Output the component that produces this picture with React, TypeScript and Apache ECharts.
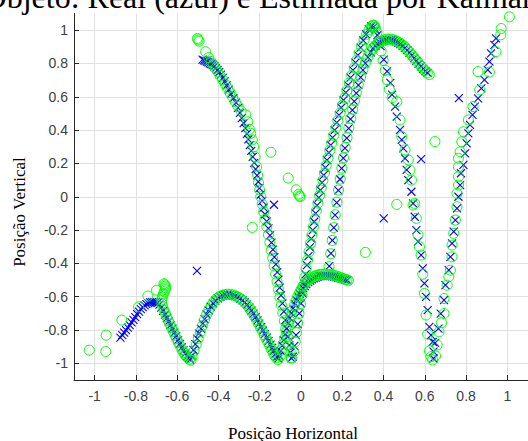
import React, { useEffect, useRef } from "react";
import * as echarts from "echarts";

const titleText = "Posição do Objeto: Real (azul) e Estimada por Kalman";
const xLabelText = "Posição Horizontal";
const yLabelText = "Posição Vertical";

const xTicks = [-1, -0.8, -0.6, -0.4, -0.2, 0, 0.2, 0.4, 0.6, 0.8, 1];
const xTickLabels = ["-1", "-0.8", "-0.6", "-0.4", "-0.2", "0", "0.2", "0.4", "0.6", "0.8", "1"];
const yTicks = [-1, -0.8, -0.6, -0.4, -0.2, 0, 0.2, 0.4, 0.6, 0.8, 1];
const yTickLabels = ["-1", "-0.8", "-0.6", "-0.4", "-0.2", "0", "0.2", "0.4", "0.6", "0.8", "1"];

// ---- Real trajectory (blue x) ----
const realArcA = [
  [-0.875, -0.846], [-0.866, -0.83], [-0.857, -0.815], [-0.848, -0.8], [-0.839, -0.786], [-0.83, -0.77],
  [-0.821, -0.754], [-0.812, -0.739], [-0.803, -0.722], [-0.794, -0.705], [-0.785, -0.689], [-0.776, -0.675],
  [-0.767, -0.662], [-0.758, -0.652], [-0.749, -0.644], [-0.74, -0.638], [-0.731, -0.634], [-0.722, -0.632],
  [-0.713, -0.632], [-0.704, -0.633], [-0.695, -0.637], [-0.686, -0.648], [-0.677, -0.665], [-0.668, -0.685],
  [-0.659, -0.707], [-0.65, -0.728], [-0.641, -0.748], [-0.632, -0.77], [-0.623, -0.792], [-0.614, -0.815],
  [-0.605, -0.837], [-0.596, -0.86], [-0.587, -0.883], [-0.578, -0.904], [-0.569, -0.922], [-0.56, -0.94],
  [-0.551, -0.956], [-0.543, -0.968], [-0.537, -0.977],
];
const realArcB = [
  [-0.53, -0.955], [-0.521, -0.92], [-0.512, -0.885], [-0.503, -0.852], [-0.494, -0.82], [-0.485, -0.791],
  [-0.476, -0.762], [-0.467, -0.734], [-0.457, -0.706], [-0.447, -0.682], [-0.437, -0.66], [-0.426, -0.64],
  [-0.415, -0.624], [-0.403, -0.61], [-0.391, -0.6], [-0.379, -0.593], [-0.367, -0.589], [-0.355, -0.587],
  [-0.343, -0.588], [-0.331, -0.591], [-0.319, -0.596], [-0.307, -0.603], [-0.295, -0.612], [-0.283, -0.622],
  [-0.272, -0.634], [-0.261, -0.648], [-0.25, -0.665], [-0.24, -0.683], [-0.23, -0.702], [-0.22, -0.722],
  [-0.211, -0.742], [-0.202, -0.762], [-0.193, -0.782], [-0.184, -0.803], [-0.175, -0.824], [-0.166, -0.845],
  [-0.157, -0.866], [-0.148, -0.887], [-0.14, -0.907], [-0.132, -0.926], [-0.124, -0.944], [-0.117, -0.96],
  [-0.111, -0.972],
];
const realArcD = [
  [-0.477, 0.823], [-0.47, 0.819], [-0.463, 0.815], [-0.456, 0.811], [-0.449, 0.806], [-0.442, 0.801],
  [-0.435, 0.796], [-0.428, 0.79], [-0.42, 0.782], [-0.412, 0.772], [-0.404, 0.761], [-0.396, 0.748],
  [-0.388, 0.733], [-0.379, 0.713], [-0.37, 0.692], [-0.36, 0.668], [-0.35, 0.643], [-0.339, 0.618],
  [-0.327, 0.592], [-0.315, 0.565], [-0.305, 0.533], [-0.296, 0.503], [-0.287, 0.472], [-0.278, 0.442],
  [-0.27, 0.412], [-0.262, 0.378], [-0.255, 0.344], [-0.248, 0.31], [-0.241, 0.276], [-0.234, 0.24],
  [-0.227, 0.204], [-0.22, 0.166], [-0.213, 0.128], [-0.207, 0.09], [-0.201, 0.052], [-0.195, 0.013],
  [-0.188, -0.025], [-0.181, -0.065], [-0.174, -0.105], [-0.166, -0.148], [-0.158, -0.19], [-0.15, -0.232],
  [-0.143, -0.275], [-0.136, -0.318], [-0.129, -0.362], [-0.122, -0.406], [-0.115, -0.452], [-0.109, -0.498],
  [-0.103, -0.545], [-0.097, -0.592], [-0.09, -0.64], [-0.083, -0.69], [-0.076, -0.74], [-0.069, -0.79],
  [-0.063, -0.84], [-0.057, -0.89], [-0.051, -0.935], [-0.046, -0.97],
];
const realArcC = [
  [-0.105, -0.955], [-0.098, -0.925], [-0.091, -0.893], [-0.084, -0.86], [-0.077, -0.826], [-0.07, -0.792],
  [-0.062, -0.76], [-0.054, -0.728], [-0.046, -0.698], [-0.038, -0.67], [-0.03, -0.645], [-0.022, -0.621],
  [-0.014, -0.6], [-0.006, -0.581], [0.002, -0.564], [0.01, -0.549], [0.018, -0.536], [0.026, -0.524],
  [0.035, -0.513], [0.044, -0.504], [0.053, -0.496], [0.062, -0.49], [0.071, -0.485], [0.08, -0.481],
  [0.089, -0.478], [0.098, -0.476], [0.107, -0.475], [0.116, -0.474], [0.125, -0.474], [0.134, -0.475],
  [0.143, -0.476], [0.152, -0.478], [0.161, -0.48], [0.17, -0.483], [0.179, -0.486], [0.188, -0.489],
  [0.197, -0.492], [0.206, -0.495], [0.215, -0.498], [0.224, -0.501],
];
const realRise1 = [
  [-0.04, -0.96], [-0.032, -0.895], [-0.024, -0.83], [-0.016, -0.765], [-0.008, -0.7], [0.0, -0.64],
  [0.008, -0.58], [0.015, -0.522], [0.022, -0.466], [0.029, -0.411], [0.036, -0.357], [0.043, -0.304],
  [0.05, -0.252], [0.057, -0.2], [0.064, -0.15], [0.071, -0.1], [0.078, -0.052], [0.086, -0.005],
  [0.094, 0.04], [0.102, 0.085], [0.11, 0.13], [0.118, 0.175], [0.126, 0.22], [0.135, 0.265],
  [0.144, 0.31], [0.153, 0.355], [0.163, 0.4], [0.173, 0.445], [0.184, 0.49], [0.195, 0.535],
  [0.206, 0.58], [0.217, 0.625], [0.228, 0.67], [0.24, 0.715], [0.252, 0.76], [0.264, 0.805],
  [0.276, 0.85], [0.289, 0.895], [0.302, 0.938], [0.315, 0.975], [0.328, 1.005], [0.34, 1.022],
];
const realRise2 = [
  [0.137, -0.416], [0.145, -0.34], [0.152, -0.262], [0.159, -0.186], [0.165, -0.11], [0.173, -0.035],
  [0.181, 0.038], [0.189, 0.105], [0.197, 0.17], [0.205, 0.232], [0.213, 0.292], [0.222, 0.352],
  [0.231, 0.41], [0.24, 0.466], [0.249, 0.52], [0.258, 0.572], [0.268, 0.622], [0.278, 0.67],
  [0.289, 0.716], [0.3, 0.76], [0.312, 0.8], [0.325, 0.836], [0.338, 0.866],
];
const realArcE = [
  [0.35, 0.89], [0.361, 0.905], [0.372, 0.917], [0.383, 0.926], [0.394, 0.933], [0.405, 0.938],
  [0.416, 0.941], [0.427, 0.942], [0.438, 0.941], [0.449, 0.938], [0.46, 0.933], [0.471, 0.926],
  [0.482, 0.917], [0.493, 0.906], [0.504, 0.894], [0.515, 0.88], [0.526, 0.865], [0.537, 0.849],
  [0.548, 0.832], [0.559, 0.815], [0.57, 0.798], [0.581, 0.782], [0.592, 0.767], [0.603, 0.754],
  [0.613, 0.744],
];
const realFall = [
  [0.352, 1.02], [0.362, 1.0], [0.37, 0.97], [0.386, 0.904], [0.401, 0.823], [0.417, 0.753],
  [0.433, 0.683], [0.441, 0.613], [0.456, 0.541], [0.464, 0.481], [0.48, 0.401], [0.488, 0.342],
  [0.496, 0.291], [0.504, 0.231], [0.512, 0.161], [0.52, 0.1], [0.535, 0.03], [0.543, -0.04],
  [0.551, -0.12], [0.559, -0.2], [0.567, -0.27], [0.582, -0.35], [0.59, -0.43], [0.598, -0.52],
  [0.606, -0.601], [0.614, -0.681], [0.622, -0.781], [0.63, -0.83], [0.638, -0.871], [0.642, -0.93],
  [0.642, -0.971],
];
const realRiseRight = [
  [0.65, -0.877], [0.666, -0.791], [0.677, -0.701], [0.693, -0.621], [0.7, -0.531], [0.716, -0.441],
  [0.724, -0.361], [0.732, -0.28], [0.74, -0.21], [0.748, -0.14], [0.756, -0.07], [0.763, 0.0],
  [0.771, 0.07], [0.775, 0.141], [0.787, 0.191], [0.795, 0.261], [0.803, 0.321], [0.811, 0.38],
  [0.819, 0.431], [0.831, 0.491], [0.842, 0.541], [0.858, 0.591], [0.874, 0.651], [0.889, 0.701],
  [0.905, 0.761], [0.913, 0.811], [0.921, 0.861], [0.937, 0.911], [0.945, 0.951],
];
const realOutliers = [
  [-0.504, -0.445], [-0.131, -0.048], [0.401, -0.13], [0.582, 0.226], [0.765, 0.592],
];

// ---- Kalman estimate (green o) ----
const estArcA = [
  [-1.026, -0.921], [-0.946, -0.929], [-0.944, -0.831], [-0.868, -0.741], [-0.787, -0.661], [-0.742, -0.596],
  [-0.7, -0.561], [-0.664, -0.522], [-0.66, -0.528], [-0.657, -0.536], [-0.656, -0.546], [-0.658, -0.557],
  [-0.662, -0.57], [-0.667, -0.585], [-0.672, -0.602], [-0.675, -0.62], [-0.674, -0.64], [-0.67, -0.66],
  [-0.664, -0.68], [-0.657, -0.7], [-0.65, -0.721], [-0.643, -0.742], [-0.635, -0.764], [-0.627, -0.786],
  [-0.619, -0.808], [-0.611, -0.83], [-0.603, -0.852], [-0.595, -0.874], [-0.586, -0.896], [-0.577, -0.917],
  [-0.568, -0.937], [-0.559, -0.953], [-0.55, -0.966], [-0.541, -0.976], [-0.533, -0.981],
];
const estArcB = [
  [-0.528, -0.96], [-0.518, -0.925], [-0.508, -0.89], [-0.498, -0.85], [-0.488, -0.812], [-0.478, -0.775],
  [-0.468, -0.74], [-0.457, -0.707], [-0.446, -0.677], [-0.434, -0.651], [-0.422, -0.629], [-0.409, -0.612],
  [-0.396, -0.6], [-0.383, -0.592], [-0.37, -0.587], [-0.357, -0.585], [-0.344, -0.586], [-0.331, -0.589],
  [-0.318, -0.595], [-0.305, -0.603], [-0.292, -0.613], [-0.28, -0.625], [-0.268, -0.64], [-0.257, -0.657],
  [-0.246, -0.676], [-0.236, -0.697], [-0.226, -0.718], [-0.216, -0.74], [-0.206, -0.762], [-0.197, -0.784],
  [-0.188, -0.806], [-0.179, -0.828], [-0.17, -0.85], [-0.161, -0.872], [-0.152, -0.894], [-0.144, -0.915],
  [-0.136, -0.935], [-0.128, -0.953], [-0.12, -0.967], [-0.112, -0.978],
];
const estArcD = [
  [-0.502, 0.95], [-0.498, 0.942], [-0.494, 0.934], [-0.462, 0.87], [-0.448, 0.835], [-0.436, 0.812],
  [-0.425, 0.793], [-0.414, 0.772], [-0.403, 0.75], [-0.392, 0.727], [-0.38, 0.703], [-0.368, 0.678],
  [-0.356, 0.652], [-0.344, 0.625], [-0.331, 0.598], [-0.318, 0.57], [-0.305, 0.542], [-0.29, 0.515],
  [-0.268, 0.492], [-0.258, 0.45], [-0.25, 0.405], [-0.244, 0.38], [-0.236, 0.342], [-0.229, 0.3],
  [-0.222, 0.24], [-0.215, 0.18], [-0.21, 0.13], [-0.206, 0.085], [-0.2, 0.04], [-0.195, 0.0],
  [-0.188, -0.045], [-0.181, -0.09], [-0.174, -0.135], [-0.166, -0.18], [-0.158, -0.228], [-0.151, -0.275],
  [-0.144, -0.322], [-0.137, -0.369], [-0.13, -0.416], [-0.123, -0.463], [-0.116, -0.51], [-0.109, -0.557],
  [-0.102, -0.604], [-0.095, -0.651], [-0.088, -0.698], [-0.081, -0.745], [-0.074, -0.792], [-0.067, -0.839],
  [-0.06, -0.886], [-0.053, -0.93], [-0.047, -0.968],
];
const estArcC = [
  [-0.1, -0.955], [-0.093, -0.92], [-0.086, -0.884], [-0.079, -0.848], [-0.072, -0.812], [-0.064, -0.777],
  [-0.056, -0.743], [-0.048, -0.711], [-0.04, -0.68], [-0.032, -0.651], [-0.024, -0.624], [-0.016, -0.6],
  [-0.008, -0.578], [0.0, -0.558], [0.008, -0.541], [0.016, -0.526], [0.025, -0.513], [0.034, -0.502],
  [0.043, -0.493], [0.052, -0.486], [0.061, -0.48], [0.07, -0.475], [0.079, -0.471], [0.088, -0.468],
  [0.097, -0.466], [0.106, -0.465], [0.115, -0.465], [0.124, -0.465], [0.133, -0.466], [0.142, -0.468],
  [0.151, -0.47], [0.16, -0.473], [0.169, -0.476], [0.178, -0.479], [0.187, -0.483], [0.196, -0.487],
  [0.205, -0.491], [0.214, -0.495], [0.223, -0.499], [0.23, -0.503],
];
const estRise1 = [
  [-0.048, -0.965], [-0.036, -0.93], [-0.028, -0.87], [-0.022, -0.815], [-0.016, -0.757], [-0.01, -0.7],
  [-0.003, -0.645], [0.004, -0.59], [0.011, -0.537], [0.018, -0.484], [0.025, -0.432], [0.032, -0.38],
  [0.039, -0.33], [0.046, -0.28], [0.053, -0.23], [0.06, -0.181], [0.067, -0.133], [0.074, -0.085],
  [0.082, -0.038], [0.09, 0.008], [0.098, 0.053], [0.106, 0.098], [0.114, 0.143], [0.122, 0.188],
  [0.131, 0.233], [0.14, 0.278], [0.149, 0.323], [0.159, 0.368], [0.169, 0.413], [0.179, 0.458],
  [0.19, 0.503], [0.201, 0.548], [0.212, 0.593], [0.223, 0.638], [0.234, 0.683], [0.246, 0.728],
  [0.258, 0.773], [0.27, 0.818], [0.282, 0.862], [0.294, 0.904], [0.306, 0.942], [0.318, 0.975],
  [0.33, 1.002], [0.34, 1.02], [0.346, 1.028], [0.352, 1.03], [0.357, 1.025],
];
const estRise2 = [
  [0.136, -0.42], [0.144, -0.342], [0.151, -0.262], [0.158, -0.185], [0.166, -0.108], [0.174, -0.033],
  [0.182, 0.04], [0.19, 0.106], [0.198, 0.172], [0.206, 0.234], [0.214, 0.295], [0.223, 0.355],
  [0.232, 0.413], [0.241, 0.47], [0.25, 0.524], [0.259, 0.576], [0.268, 0.626], [0.278, 0.674],
  [0.289, 0.72], [0.3, 0.764], [0.312, 0.803], [0.324, 0.839], [0.337, 0.87],
];
const estArcE = [
  [0.349, 0.893], [0.36, 0.908], [0.371, 0.92], [0.382, 0.93], [0.393, 0.937], [0.404, 0.942],
  [0.415, 0.945], [0.426, 0.946], [0.437, 0.945], [0.448, 0.942], [0.459, 0.937], [0.47, 0.93],
  [0.481, 0.921], [0.492, 0.91], [0.503, 0.898], [0.514, 0.884], [0.525, 0.869], [0.536, 0.853],
  [0.547, 0.836], [0.558, 0.819], [0.569, 0.802], [0.58, 0.786], [0.591, 0.77], [0.602, 0.756],
  [0.612, 0.744], [0.622, 0.733],
];
const estFall = [
  [0.36, 1.015], [0.368, 0.985], [0.378, 0.93], [0.388, 0.875], [0.398, 0.818], [0.408, 0.76],
  [0.418, 0.702], [0.428, 0.645], [0.442, 0.595], [0.464, 0.571], [0.48, 0.461], [0.488, 0.361],
  [0.504, 0.281], [0.52, 0.221], [0.528, 0.16], [0.535, 0.1], [0.543, -0.05], [0.551, -0.04],
  [0.559, -0.13], [0.567, -0.23], [0.574, -0.3], [0.582, -0.35], [0.59, -0.465], [0.598, -0.58],
  [0.606, -0.71], [0.614, -0.825], [0.622, -0.925], [0.63, -0.96], [0.638, -0.98],
];
const estRiseRight = [
  [0.652, -0.955], [0.66, -0.89], [0.669, -0.811], [0.681, -0.756], [0.693, -0.701], [0.693, -0.611],
  [0.708, -0.531], [0.716, -0.48], [0.724, -0.441], [0.732, -0.361], [0.732, -0.29], [0.74, -0.22],
  [0.748, -0.14], [0.756, -0.06], [0.756, 0.02], [0.763, 0.07], [0.763, 0.12], [0.763, 0.18],
  [0.763, 0.231], [0.771, 0.27], [0.779, 0.33], [0.787, 0.39], [0.811, 0.461], [0.834, 0.541],
  [0.866, 0.641], [0.858, 0.751], [0.913, 0.748], [0.945, 0.871], [0.968, 0.972], [0.97, 1.01],
  [1.01, 1.08],
];
const estOutliers = [
  [-0.146, 0.267], [-0.062, 0.112], [-0.023, 0.042], [-0.012, 0.015], [-0.007, 0.005], [-0.004, 0.0],
  [-0.236, -0.184], [0.464, -0.046], [0.312, -0.334], [0.649, 0.331],
];

const realPoints = [
  ...realArcA, ...realArcB, ...realArcD, ...realArcC, ...realRise1, ...realRise2,
  ...realArcE, ...realFall, ...realRiseRight, ...realOutliers,
];
const estPoints = [
  ...estArcA, ...estArcB, ...estArcD, ...estArcC, ...estRise1, ...estRise2,
  ...estArcE, ...estFall, ...estRiseRight, ...estOutliers,
];

export default function App() {
  const ref = useRef<HTMLDivElement>(null);
  useEffect(() => {
    if (!ref.current) return;
    const chart = echarts.init(ref.current, undefined, { renderer: "svg" });
    const axisColor = "#262626";
    const gridColor = "#e0e0e0";
    const tickFont = { fontSize: 14, color: "#404040", fontFamily: "'Liberation Sans', Arial, sans-serif" };
    chart.setOption({
      animation: false,
      backgroundColor: "#ffffff",
      grid: { left: 74, top: 13.5, width: 465.5, height: 366.5, containLabel: false },
      xAxis: {
        type: "value",
        min: -1.1,
        max: 1.1,
        axisLine: { show: true, onZero: false, lineStyle: { color: axisColor, width: 1 } },
        axisTick: { show: true, inside: true, length: 5, customValues: xTicks, lineStyle: { color: axisColor } },
        axisLabel: {
          ...tickFont,
          margin: 9,
          customValues: xTicks,
          formatter: (v: number) => {
            const i = xTicks.findIndex((t) => Math.abs(t - v) < 1e-6);
            return i >= 0 ? xTickLabels[i] : "";
          },
        },
        splitLine: { show: true, lineStyle: { color: gridColor, width: 1 } },
      },
      yAxis: {
        type: "value",
        min: -1.1,
        max: 1.1,
        axisLine: { show: true, onZero: false, lineStyle: { color: axisColor, width: 1 } },
        axisTick: { show: true, inside: true, length: 5, customValues: yTicks, lineStyle: { color: axisColor } },
        axisLabel: {
          ...tickFont,
          margin: 6,
          customValues: yTicks,
          formatter: (v: number) => {
            const i = yTicks.findIndex((t) => Math.abs(t - v) < 1e-6);
            return i >= 0 ? yTickLabels[i] : "";
          },
        },
        splitLine: { show: true, lineStyle: { color: gridColor, width: 1 } },
      },
      series: [
        {
          type: "scatter",
          name: "Real",
          data: realPoints,
          symbol: "path://M0,0L10,10M10,0L0,10",
          symbolSize: 8,
          itemStyle: { color: "transparent", borderColor: "#0000ff", borderWidth: 1.1, opacity: 1 },
          clip: false,
        },
        {
          type: "scatter",
          name: "Kalman",
          data: estPoints,
          symbol: "circle",
          symbolSize: 10,
          itemStyle: { color: "transparent", borderColor: "#00ff00", borderWidth: 1, opacity: 1 },
          clip: false,
        },
      ],
      graphic: [
        {
          type: "text",
          x: -164,
          y: -3.5,
          style: {
            text: titleText,
            font: "32px 'Liberation Serif', 'Times New Roman', serif",
            fill: "#000",
            align: "left",
            verticalAlign: "middle",
          },
        },
        {
          type: "text",
          x: 293,
          y: 433,
          style: {
            text: xLabelText,
            font: "17px 'Liberation Serif', 'Times New Roman', serif",
            fill: "#000",
            align: "center",
            verticalAlign: "middle",
          },
        },
        {
          type: "text",
          x: 19,
          y: 212,
          rotation: Math.PI / 2,
          style: {
            text: yLabelText,
            font: "17px 'Liberation Serif', 'Times New Roman', serif",
            fill: "#000",
            align: "center",
            verticalAlign: "middle",
          },
        },
      ],
    });
    return () => chart.dispose();
  }, []);
  return <div ref={ref} style={{ position: "absolute", left: 0, top: 0, width: 528, height: 441 }} />;
}
